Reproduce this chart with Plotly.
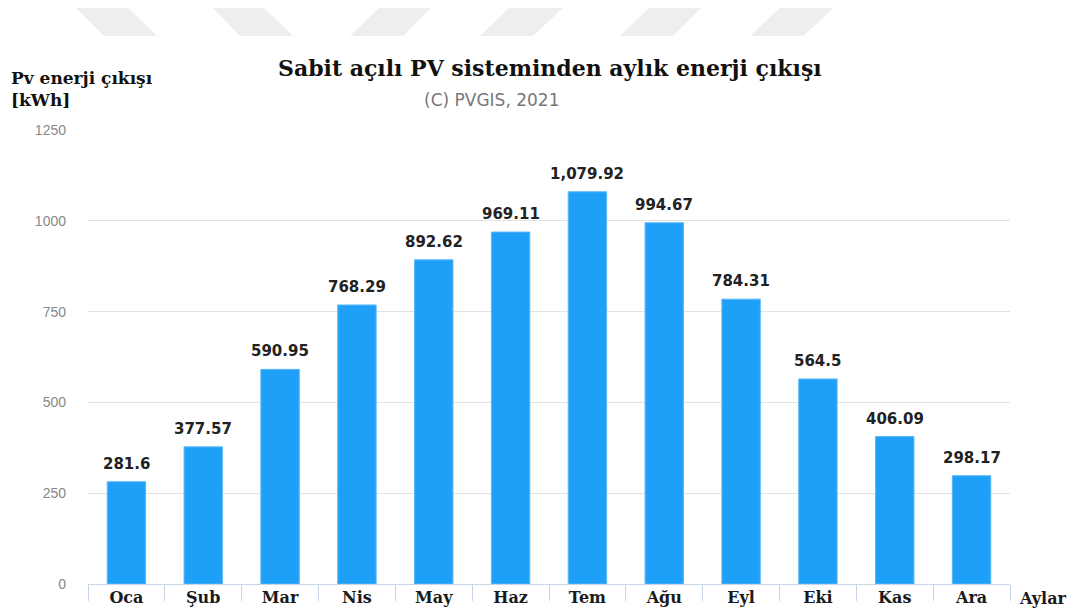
import plotly.graph_objects as go

months = ["Oca", "Şub", "Mar", "Nis", "May", "Haz", "Tem", "Ağu", "Eyl", "Eki", "Kas", "Ara"]
energy_kwh = [281.6, 377.57, 590.95, 768.29, 892.62, 969.11, 1079.92, 994.67, 784.31, 564.5, 406.09, 298.17]
y_ticks = [0, 250, 500, 750, 1000, 1250]

# page has an 8px body margin, so the figure sits at (8, 8) in the window
OFF = 8
W, H = 1072, 604
L, R, T, B = 80, 70, 122, 28
BAR = "#1fa0f8"
SERIF = "DejaVu Serif"
SANS = "DejaVu Sans"

fig = go.Figure(
    go.Bar(
        x=months,
        y=energy_kwh,
        marker=dict(color=BAR, line=dict(color="#5cb8fa", width=1)),
        hoverinfo="x+y",
    )
)

fig.update_xaxes(
    automargin=False,
    showline=True,
    linecolor="#c8d6e6",
    linewidth=1,
    tickson="boundaries",
    ticks="outside",
    ticklen=16,
    tickcolor="#c8d6e6",
    ticklabelstandoff=-1,
    tickfont=dict(family=SERIF, size=16, color="#1a1a1a", weight="bold"),
    showgrid=False,
)
fig.update_yaxes(
    automargin=False,
    range=[0, 1250],
    tickvals=y_ticks,
    showline=False,
    zeroline=False,
    gridcolor="#e2e2e2",
    gridwidth=1,
    ticklabelstandoff=21,
    tickfont=dict(family="Liberation Sans", size=14, color="#888888"),
)

# paper coords are relative to the plot area, so convert from window pixels
pw, ph = W - L - R, H - T - B


def ax(xpix):
    return (xpix - OFF - L) / pw


def ay(ypix):
    return (H - B - (ypix - OFF)) / ph


# faded chevron watermark band across the top
bands = [
    (73, 125, 104, 157), (210, 261, 240, 293),
    (382, 434, 350, 403), (512, 566, 480, 533),
    (652, 704, 620, 673), (783, 837, 750, 803),
]
shapes = []
for tl, tr, bl, br in bands:
    path = (f"M {ax(tl)} {ay(5)} L {ax(tr)} {ay(5)} "
            f"L {ax(br)} {ay(36)} L {ax(bl)} {ay(36)} Z")
    shapes.append(dict(type="path", xref="paper", yref="paper", path=path,
                       fillcolor="#eeeeee", line=dict(width=0), layer="below"))

annotations = [
    dict(text="<b>Sabit açılı PV sisteminden aylık enerji çıkışı</b>",
         x=ax(550), y=ay(68), xanchor="center", yanchor="middle",
         font=dict(family=SERIF, size=22, color="#111111")),
    dict(text="(C) PVGIS, 2021",
         x=ax(491), y=ay(100), xanchor="center", yanchor="middle",
         font=dict(family=SANS, size=17, color="#777777")),
    dict(text="<b>Pv enerji çıkışı<br>[kWh]</b>",
         x=ax(9), y=ay(66), xanchor="left", yanchor="top", align="left",
         font=dict(family=SERIF, size=17, color="#111111")),
    dict(text="<b>Aylar</b>",
         x=ax(1017), y=ay(598), xanchor="left", yanchor="middle",
         font=dict(family=SERIF, size=16, color="#1a1a1a")),
]
for a in annotations:
    a.update(xref="paper", yref="paper", showarrow=False)

# value labels above each bar
for m, v in zip(months, energy_kwh):
    annotations.append(dict(
        x=m, y=v, xref="x", yref="y", text=f"{v:,}",
        showarrow=False, yanchor="bottom", yshift=7,
        font=dict(family=SANS, size=15, color="#222222", weight="bold"),
    ))

fig.update_layout(
    width=W,
    height=H,
    margin=dict(l=L, r=R, t=T, b=B, autoexpand=False),
    paper_bgcolor="white",
    plot_bgcolor="white",
    bargap=0.5,
    showlegend=False,
    shapes=shapes,
    annotations=annotations,
)

fig.write_html("out.html")
